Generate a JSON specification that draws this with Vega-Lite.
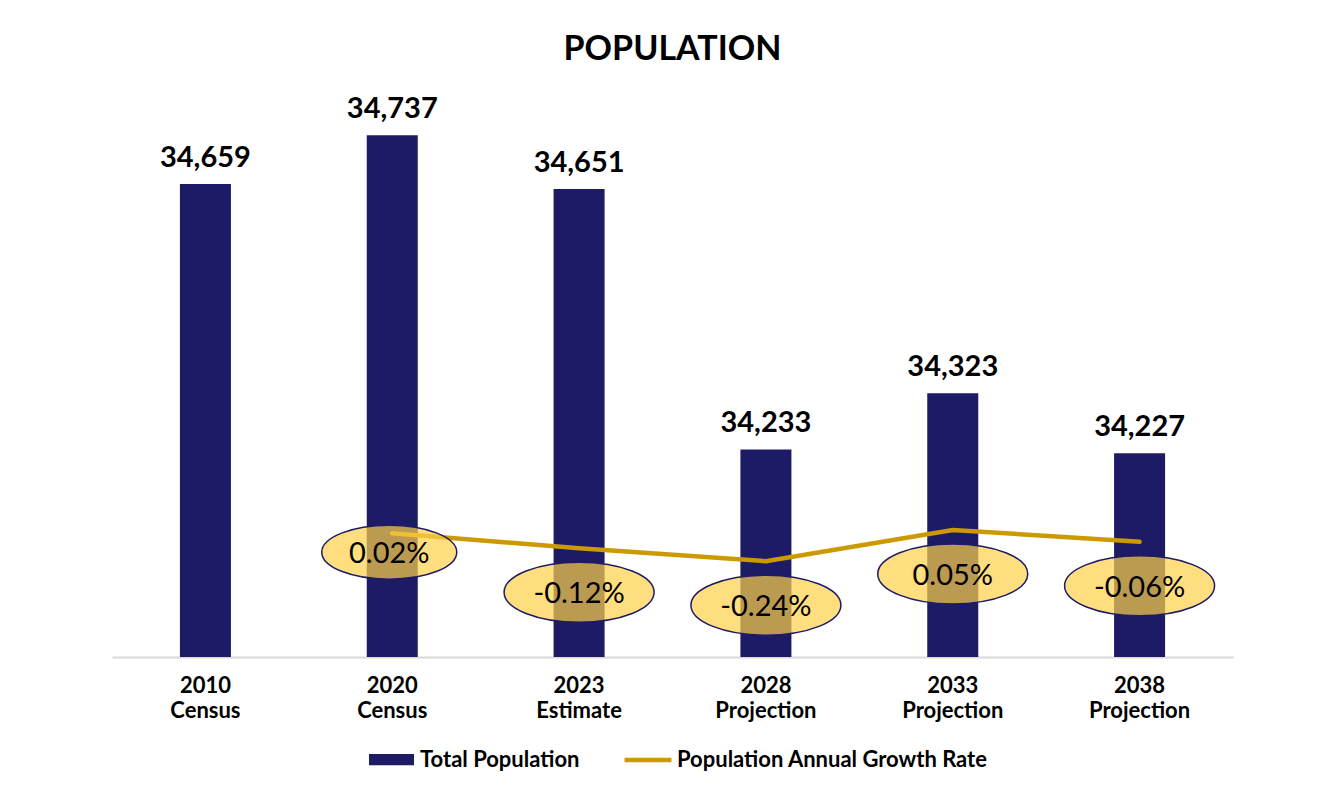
{
  "$schema": "https://vega.github.io/schema/vega-lite/v6.json",
  "width": 1121,
  "height": 561,
  "autosize": {"type": "none"},
  "padding": {"left": 112, "top": 96, "right": 88, "bottom": 136},
  "background": "white",
  "config": {
    "view": {"stroke": null},
    "font": "Lato",
    "locale": {"number": {"decimal": ".", "thousands": ",", "grouping": [3], "currency": ["$", ""], "minus": "-"}},
    "title": {"font": "Lato", "fontSize": 34, "fontWeight": "bold", "color": "#000000", "baseline": "alphabetic", "offset": 28, "anchor": "middle"}
  },
  "title": "POPULATION",
  "data": {
    "values": [
      {"cat": "2010 Census", "pop": 34659, "growth": null},
      {"cat": "2020 Census", "pop": 34737, "growth": 0.0002},
      {"cat": "2023 Estimate", "pop": 34651, "growth": -0.0012},
      {"cat": "2028 Projection", "pop": 34233, "growth": -0.0024},
      {"cat": "2033 Projection", "pop": 34323, "growth": 0.0005},
      {"cat": "2038 Projection", "pop": 34227, "growth": -0.0006}
    ]
  },
  "encoding": {
    "x": {
      "field": "cat",
      "type": "nominal",
      "sort": null,
      "scale": {"paddingInner": 0.727, "paddingOuter": 0.3635},
      "axis": {
        "title": null,
        "labelAngle": 0,
        "labelExpr": "split(datum.label, ' ')",
        "labelFont": "Lato",
        "labelFontSize": 22,
        "labelFontWeight": "bold",
        "labelColor": "#000000",
        "labelLineHeight": 25,
        "labelPadding": 18,
        "ticks": false,
        "domainColor": "#D9D9D9",
        "domainWidth": 2,
        "grid": false
      }
    }
  },
  "layer": [
    {
      "encoding": {
        "y": {"field": "pop", "type": "quantitative", "scale": {"domain": [33900, 34800], "zero": false, "nice": false}, "axis": null}
      },
      "layer": [
        {
          "mark": {"type": "bar", "clip": true},
          "encoding": {
            "fill": {
              "datum": "Total Population",
              "scale": {"range": ["#1D1B66"]},
              "legend": {
                "title": null,
                "orient": "none",
                "legendX": 257,
                "legendY": 641,
                "symbolType": "M -1 -0.25 L 1 -0.25 L 1 0.25 L -1 0.25 Z",
                "symbolSize": 2025,
                "symbolStrokeWidth": 0,
                "labelFont": "Lato",
                "labelFontSize": 22,
                "labelFontWeight": "bold",
                "labelColor": "#000000",
                "labelOffset": 6,
                "labelLimit": 500
              }
            }
          }
        },
        {
          "mark": {"type": "text", "baseline": "alphabetic", "dy": -17, "font": "Lato", "fontSize": 29, "fontWeight": "bold", "color": "#000000"},
          "encoding": {"text": {"field": "pop", "type": "quantitative", "format": ","}}
        }
      ]
    },
    {
      "encoding": {
        "y": {"field": "growth", "type": "quantitative", "scale": {"domain": [-0.0113, 0.0408], "zero": false, "nice": false}, "axis": null}
      },
      "layer": [
        {
          "mark": {"type": "line", "strokeWidth": 4.5, "strokeCap": "round"},
          "encoding": {
            "stroke": {
              "datum": "Population Annual Growth Rate",
              "scale": {"range": ["#CC9A00"]},
              "legend": {
                "title": null,
                "orient": "none",
                "legendX": 510,
                "legendY": 638,
                "symbolType": "stroke",
                "symbolSize": 2200,
                "symbolStrokeWidth": 4.5,
                "labelFont": "Lato",
                "labelFontSize": 22,
                "labelFontWeight": "bold",
                "labelColor": "#000000",
                "labelOffset": 3,
                "labelLimit": 500
              }
            }
          }
        },
        {
          "transform": [{"filter": "datum.cat === '2020 Census'"}],
          "mark": {"type": "point", "shape": "M -1 0 A 1 0.4 0 1 0 1 0 A 1 0.4 0 1 0 -1 0 Z", "size": 18225, "filled": true, "fill": "#FFD04A", "fillOpacity": 0.7, "stroke": "#1D1B66", "strokeWidth": 1.5, "strokeOpacity": 1, "opacity": 1, "yOffset": 19, "xOffset": -3}
        },
        {
          "transform": [{"filter": "datum.cat === '2020 Census'"}],
          "mark": {"type": "text", "baseline": "middle", "font": "Lato", "fontSize": 29, "color": "#000000", "yOffset": 21, "xOffset": -3},
          "encoding": {"text": {"field": "growth", "type": "quantitative", "format": ".2%"}}
        },
        {
          "transform": [{"filter": "datum.growth !== null && datum.cat !== '2020 Census'"}],
          "mark": {"type": "point", "shape": "M -1 0 A 1 0.4 0 1 0 1 0 A 1 0.4 0 1 0 -1 0 Z", "size": 22500, "filled": true, "fill": "#FFD04A", "fillOpacity": 0.7, "stroke": "#1D1B66", "strokeWidth": 1.5, "strokeOpacity": 1, "opacity": 1, "yOffset": 44}
        },
        {
          "transform": [{"filter": "datum.growth !== null && datum.cat !== '2020 Census'"}],
          "mark": {"type": "text", "baseline": "middle", "font": "Lato", "fontSize": 29, "color": "#000000", "yOffset": 46},
          "encoding": {"text": {"field": "growth", "type": "quantitative", "format": ".2%"}}
        }
      ]
    }
  ],
  "resolve": {"scale": {"y": "independent"}}
}
